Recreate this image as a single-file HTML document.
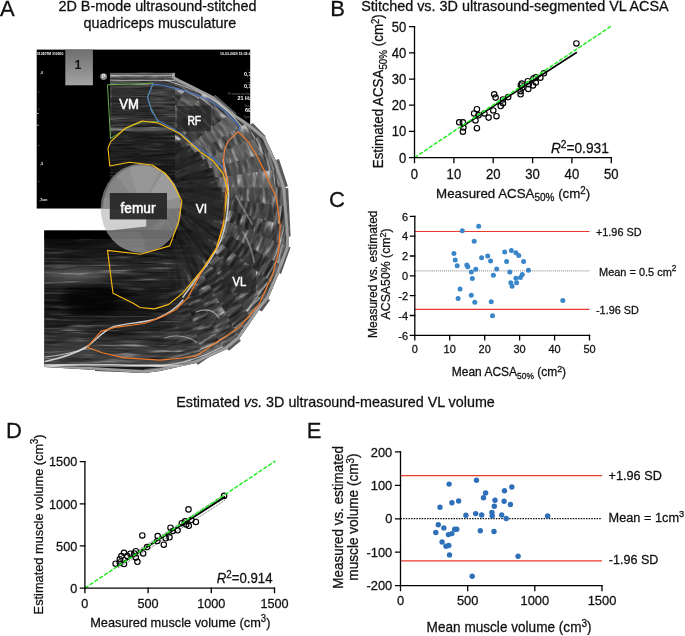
<!DOCTYPE html>
<html lang="en"><head><meta charset="utf-8"><title>Figure: stitched ultrasound vs 3D ultrasound</title>
<style>
html,body{margin:0;padding:0;background:#fff}
body{width:685px;height:636px;overflow:hidden}
svg{display:block;font-family:"Liberation Sans", Arial, sans-serif;fill:#111}
#charts text{stroke:#111;stroke-width:0.28px}
.ax{stroke:#000;stroke-width:1.3;fill:none;stroke-linecap:square}
.tk{font-size:12.3px}
.lb{font-size:14.3px}
.pl{font-size:22px}
.oc{fill:none;stroke:#000;stroke-width:1.15}
.us{font-family:"Liberation Sans", Arial, sans-serif;fill:#fff}
</style></head><body>
<svg width="685" height="636" viewBox="0 0 685 636">
<rect width="685" height="636" fill="#fff"/>
<g opacity="0.999">

<defs>
<filter id="spk0" x="0" y="0" width="100%" height="100%" color-interpolation-filters="sRGB">
<feTurbulence type="fractalNoise" baseFrequency="0.055 0.26" numOctaves="3" seed="3" result="n"/>
<feColorMatrix in="n" type="matrix" values="0 0 0 0 1  0 0 0 0 1  0 0 0 0 1  1 0 0 0 0" result="w"/>
<feComponentTransfer in="w" result="w2"><feFuncA type="table" tableValues="0 0 0 0 0.03 0.17 0.5 0.9 1"/></feComponentTransfer>
<feColorMatrix in="n" type="matrix" values="0 0 0 0 0  0 0 0 0 0  0 0 0 0 0  0 1 0 0 0" result="d"/>
<feComponentTransfer in="d" result="d2"><feFuncA type="table" tableValues="0 0 0 0 0.1 0.3 0.5 0.6 0.6"/></feComponentTransfer>
<feComposite in="d2" in2="SourceGraphic" operator="in" result="dk"/>
<feColorMatrix in="SourceGraphic" type="matrix" values="0 0 0 0 0  0 0 0 0 0  0 0 0 0 0  3.2 0 0 0 0" result="la"/>
<feComposite in="w2" in2="la" operator="in" result="st"/>
<feMerge><feMergeNode in="SourceGraphic"/><feMergeNode in="dk"/><feMergeNode in="st"/></feMerge>
</filter>
<filter id="spk1" x="0" y="0" width="100%" height="100%" color-interpolation-filters="sRGB">
<feTurbulence type="fractalNoise" baseFrequency="0.05 0.3" numOctaves="3" seed="11" result="n"/>
<feColorMatrix in="n" type="matrix" values="0 0 0 0 1  0 0 0 0 1  0 0 0 0 1  1 0 0 0 0" result="w"/>
<feComponentTransfer in="w" result="w2"><feFuncA type="table" tableValues="0 0 0 0 0.03 0.17 0.5 0.9 1"/></feComponentTransfer>
<feColorMatrix in="n" type="matrix" values="0 0 0 0 0  0 0 0 0 0  0 0 0 0 0  0 1 0 0 0" result="d"/>
<feComponentTransfer in="d" result="d2"><feFuncA type="table" tableValues="0 0 0 0 0.1 0.3 0.5 0.6 0.6"/></feComponentTransfer>
<feComposite in="d2" in2="SourceGraphic" operator="in" result="dk"/>
<feColorMatrix in="SourceGraphic" type="matrix" values="0 0 0 0 0  0 0 0 0 0  0 0 0 0 0  3.2 0 0 0 0" result="la"/>
<feComposite in="w2" in2="la" operator="in" result="st"/>
<feMerge><feMergeNode in="SourceGraphic"/><feMergeNode in="dk"/><feMergeNode in="st"/></feMerge>
</filter>
<filter id="spk2" x="0" y="0" width="100%" height="100%" color-interpolation-filters="sRGB">
<feTurbulence type="fractalNoise" baseFrequency="0.06 0.24" numOctaves="3" seed="23" result="n"/>
<feColorMatrix in="n" type="matrix" values="0 0 0 0 1  0 0 0 0 1  0 0 0 0 1  1 0 0 0 0" result="w"/>
<feComponentTransfer in="w" result="w2"><feFuncA type="table" tableValues="0 0 0 0 0.03 0.17 0.5 0.9 1"/></feComponentTransfer>
<feColorMatrix in="n" type="matrix" values="0 0 0 0 0  0 0 0 0 0  0 0 0 0 0  0 1 0 0 0" result="d"/>
<feComponentTransfer in="d" result="d2"><feFuncA type="table" tableValues="0 0 0 0 0.1 0.3 0.5 0.6 0.6"/></feComponentTransfer>
<feComposite in="d2" in2="SourceGraphic" operator="in" result="dk"/>
<feColorMatrix in="SourceGraphic" type="matrix" values="0 0 0 0 0  0 0 0 0 0  0 0 0 0 0  3.2 0 0 0 0" result="la"/>
<feComposite in="w2" in2="la" operator="in" result="st"/>
<feMerge><feMergeNode in="SourceGraphic"/><feMergeNode in="dk"/><feMergeNode in="st"/></feMerge>
</filter>
<filter id="spkB" x="0" y="0" width="100%" height="100%" color-interpolation-filters="sRGB">
<feTurbulence type="fractalNoise" baseFrequency="0.02 0.3" numOctaves="3" seed="5" result="n"/>
<feColorMatrix in="n" type="matrix" values="0 0 0 0 1  0 0 0 0 1  0 0 0 0 1  1 0 0 0 0" result="w"/>
<feComponentTransfer in="w" result="w2"><feFuncA type="table" tableValues="0 0 0 0 0.03 0.17 0.5 0.9 1"/></feComponentTransfer>
<feColorMatrix in="n" type="matrix" values="0 0 0 0 0  0 0 0 0 0  0 0 0 0 0  0 1 0 0 0" result="d"/>
<feComponentTransfer in="d" result="d2"><feFuncA type="table" tableValues="0 0 0 0 0.1 0.3 0.5 0.6 0.6"/></feComponentTransfer>
<feComposite in="d2" in2="SourceGraphic" operator="in" result="dk"/>
<feColorMatrix in="SourceGraphic" type="matrix" values="0 0 0 0 0  0 0 0 0 0  0 0 0 0 0  3.2 0 0 0 0" result="la"/>
<feComposite in="w2" in2="la" operator="in" result="st"/>
<feMerge><feMergeNode in="SourceGraphic"/><feMergeNode in="dk"/><feMergeNode in="st"/></feMerge>
</filter>
<filter id="spkR0" x="0" y="0" width="100%" height="100%" color-interpolation-filters="sRGB">
<feTurbulence type="fractalNoise" baseFrequency="0.3 0.05" numOctaves="3" seed="31" result="n"/>
<feColorMatrix in="n" type="matrix" values="0 0 0 0 1  0 0 0 0 1  0 0 0 0 1  1 0 0 0 0" result="w"/>
<feComponentTransfer in="w" result="w2"><feFuncA type="table" tableValues="0 0 0 0 0.03 0.15 0.42 0.8 1"/></feComponentTransfer>
<feColorMatrix in="n" type="matrix" values="0 0 0 0 0  0 0 0 0 0  0 0 0 0 0  0 1 0 0 0" result="d"/>
<feComponentTransfer in="d" result="d2"><feFuncA type="table" tableValues="0 0 0 0 0.1 0.3 0.5 0.6 0.6"/></feComponentTransfer>
<feComposite in="d2" in2="SourceGraphic" operator="in" result="dk"/>
<feColorMatrix in="SourceGraphic" type="matrix" values="0 0 0 0 0  0 0 0 0 0  0 0 0 0 0  3.2 0 0 0 0" result="la"/>
<feComposite in="w2" in2="la" operator="in" result="st"/>
<feMerge><feMergeNode in="SourceGraphic"/><feMergeNode in="dk"/><feMergeNode in="st"/></feMerge>
</filter>
<filter id="spkR1" x="0" y="0" width="100%" height="100%" color-interpolation-filters="sRGB">
<feTurbulence type="fractalNoise" baseFrequency="0.26 0.06" numOctaves="3" seed="47" result="n"/>
<feColorMatrix in="n" type="matrix" values="0 0 0 0 1  0 0 0 0 1  0 0 0 0 1  1 0 0 0 0" result="w"/>
<feComponentTransfer in="w" result="w2"><feFuncA type="table" tableValues="0 0 0 0 0.03 0.15 0.42 0.8 1"/></feComponentTransfer>
<feColorMatrix in="n" type="matrix" values="0 0 0 0 0  0 0 0 0 0  0 0 0 0 0  0 1 0 0 0" result="d"/>
<feComponentTransfer in="d" result="d2"><feFuncA type="table" tableValues="0 0 0 0 0.1 0.3 0.5 0.6 0.6"/></feComponentTransfer>
<feComposite in="d2" in2="SourceGraphic" operator="in" result="dk"/>
<feColorMatrix in="SourceGraphic" type="matrix" values="0 0 0 0 0  0 0 0 0 0  0 0 0 0 0  3.2 0 0 0 0" result="la"/>
<feComposite in="w2" in2="la" operator="in" result="st"/>
<feMerge><feMergeNode in="SourceGraphic"/><feMergeNode in="dk"/><feMergeNode in="st"/></feMerge>
</filter>
<filter id="spkT" x="0" y="0" width="100%" height="100%" color-interpolation-filters="sRGB">
<feTurbulence type="fractalNoise" baseFrequency="0.03 0.5" numOctaves="3" seed="9" result="n"/>
<feColorMatrix in="n" type="matrix" values="0 0 0 0 1  0 0 0 0 1  0 0 0 0 1  1 0 0 0 0" result="w"/>
<feComponentTransfer in="w" result="w2"><feFuncA type="table" tableValues="0 0 0 0 0.02 0.1 0.3 0.6 0.85"/></feComponentTransfer>
<feColorMatrix in="n" type="matrix" values="0 0 0 0 0  0 0 0 0 0  0 0 0 0 0  0 1 0 0 0" result="d"/>
<feComponentTransfer in="d" result="d2"><feFuncA type="table" tableValues="0 0 0 0 0.1 0.3 0.5 0.6 0.6"/></feComponentTransfer>
<feComposite in="d2" in2="SourceGraphic" operator="in" result="dk"/>
<feColorMatrix in="SourceGraphic" type="matrix" values="0 0 0 0 0  0 0 0 0 0  0 0 0 0 0  2.6 0 0 0 0" result="la"/>
<feComposite in="w2" in2="la" operator="in" result="st"/>
<feMerge><feMergeNode in="SourceGraphic"/><feMergeNode in="dk"/><feMergeNode in="st"/></feMerge>
</filter>
<linearGradient id="depth" x1="0" y1="0" x2="0" y2="1">
<stop offset="0" stop-color="#707070"/><stop offset="0.012" stop-color="#707070"/><stop offset="0.02" stop-color="#5c5c5c"/><stop offset="0.05" stop-color="#626262"/><stop offset="0.06" stop-color="#2a2a2a"/><stop offset="0.07" stop-color="#b8b8b8"/><stop offset="0.082" stop-color="#464646"/><stop offset="0.3" stop-color="#3c3c3c"/><stop offset="0.5" stop-color="#343434"/><stop offset="0.53" stop-color="#606060"/><stop offset="0.56" stop-color="#262626"/><stop offset="0.85" stop-color="#1e1e1e"/><stop offset="1" stop-color="#141414"/></linearGradient>
<linearGradient id="depthI" x1="0" y1="0" x2="0" y2="1"><stop offset="0" stop-color="#2a2a2a"/><stop offset="0.6" stop-color="#222"/><stop offset="1" stop-color="#161616"/></linearGradient>
<linearGradient id="depthB" x1="0" y1="0" x2="0" y2="1">
<stop offset="0" stop-color="#8a8a8a"/><stop offset="0.012" stop-color="#8a8a8a"/><stop offset="0.025" stop-color="#484848"/><stop offset="0.2" stop-color="#343434"/><stop offset="0.4" stop-color="#161616"/><stop offset="0.55" stop-color="#1a1a1a"/><stop offset="0.7" stop-color="#2e2e2e"/><stop offset="0.85" stop-color="#181818"/><stop offset="1" stop-color="#080808"/></linearGradient>
<linearGradient id="g1" x1="0" y1="0" x2="0" y2="1"><stop offset="0" stop-color="#6f6f6f"/><stop offset="1" stop-color="#a3a3a3"/></linearGradient>
</defs>

<g id="panelA">
<rect x="36.7" y="49.6" width="213.5" height="159.1" fill="#000"/>
<clipPath id="scr"><rect x="36.8" y="49.6" width="213.4" height="158.8"/></clipPath>
<g class="us" clip-path="url(#scr)" style="font-weight:bold" fill="#e6e6e6"><text x="36.9" y="55" style="font-size:3.5px" textLength="26.4" lengthAdjust="spacingAndGlyphs">01020TM 310500</text><text x="220" y="54.5" style="font-size:3.4px" textLength="32.5" lengthAdjust="spacingAndGlyphs">10-03-2020 15:32:41</text><text x="246.8" y="71" style="font-size:2.4px;font-weight:normal" fill="#6a6a6a">MI</text><text x="243.9" y="76.3" style="font-size:5.4px" fill="#fff">0,7</text><text x="246.3" y="83.4" style="font-size:2.4px;font-weight:normal" fill="#6a6a6a">TIS</text><text x="243.9" y="88.4" style="font-size:5.4px" fill="#fff">0,1</text><text x="228.3" y="94.6" style="font-size:2.7px;font-weight:normal" fill="#6a6a6a" textLength="25" lengthAdjust="spacingAndGlyphs">Framerate/rate</text><text x="237.6" y="100.2" style="font-size:5.4px" fill="#fff">21 Hz</text><text x="244.2" y="106.7" style="font-size:2.6px;font-weight:normal" fill="#6a6a6a">Gain</text><text x="245" y="112.2" style="font-size:5.4px" fill="#fff">69</text><text x="244" y="118.4" style="font-size:2.6px;font-weight:normal" fill="#6a6a6a">Dynam</text><text x="40.2" y="73.6" style="font-size:3.4px">,0</text><text x="40.2" y="164.6" style="font-size:3.4px">,5</text><text x="39.4" y="200.7" style="font-size:3.4px" textLength="8" lengthAdjust="spacingAndGlyphs">,7cm</text><path d="M38.6,91.8h.6M38.6,109.2h.6M37,113.4h1.6M37,125.2h1.6M38.6,145.4h.6M38.6,181.6h.6" stroke="#ddd" stroke-width="0.9" fill="none"/></g>
<clipPath id="fanclip"><polygon points="110,72.7 175,72.7 175,77 213,96 236,115 251,125 265,137 276,161 285,187 289,237 289,247 279,273 268,299 259,310 239,339 227,349 196,363 160,371 144,373 95,370 44.3,367 44.3,230.2 110,230.2"/></clipPath>
<polygon points="110,72.7 175,72.7 175,77 213,96 236,115 251,125 265,137 276,161 285,187 289,237 289,247 279,273 268,299 259,310 239,339 227,349 196,363 160,371 144,373 95,370 44.3,367 44.3,230.2 110,230.2" fill="#181818"/>
<g fill="#585858"><polygon points="250,124.5 253,123.3 265.5,136 265,137.5"/><polygon points="276,160 279,159 287.8,186 285,187.5"/><polygon points="285,188 288.2,188.3 290.6,236 289,237"/><polygon points="289,247 290.6,247.3 281,274 279,273"/><polygon points="268,299 270.2,300 261.8,311.5 259,310"/><polygon points="239,339 241,340.8 229,350.8 227,349"/><polygon points="208,354 210,356.4 198,364.8 196,363"/><polygon points="161,367 161.6,370.2 144,373.2 144,369"/><polygon points="144,369.5 144.5,373 95,371 95,368" fill="#444"/><polygon points="213,96 215.5,95 236.6,113.5 236,115"/></g>
<g id="fan" clip-path="url(#fanclip)">
<g transform="rotate(7.5 141 208.5)"><rect x="120.0" y="72.7" width="42" height="107.8" fill="url(#depth)" filter="url(#spk1)"/>
<rect x="120.0" y="133.1" width="42" height="47.4" fill="url(#depthI)" filter="url(#spkR1)"/>
<rect x="120.0" y="134.5" width="42" height="53.9" fill="#fff" fill-opacity="0.04"/>
</g>
<g transform="rotate(15.0 141 208.5)"><rect x="120.0" y="74.1" width="42" height="106.4" fill="url(#depth)" filter="url(#spk2)"/>
<rect x="120.0" y="133.7" width="42" height="46.8" fill="url(#depthI)" filter="url(#spkR0)"/>
<rect x="120.0" y="84.1" width="42" height="48.9" fill="#fff" fill-opacity="0.07"/>
<rect x="120.0" y="135.2" width="42" height="53.2" fill="#000" fill-opacity="0.04"/>
</g>
<g transform="rotate(22.5 141 208.5)"><rect x="120.0" y="76.5" width="42" height="104.0" fill="url(#depth)" filter="url(#spk0)"/>
<rect x="120.0" y="134.8" width="42" height="45.7" fill="url(#depthI)" filter="url(#spkR1)"/>
<rect x="120.0" y="86.5" width="42" height="47.8" fill="#fff" fill-opacity="0.02"/>
<rect x="120.0" y="136.4" width="42" height="52.0" fill="#fff" fill-opacity="0.06"/>
</g>
<g transform="rotate(30.0 141 208.5)"><rect x="120.0" y="76.6" width="42" height="103.9" fill="url(#depth)" filter="url(#spk1)"/>
<rect x="120.0" y="134.8" width="42" height="45.7" fill="url(#depthI)" filter="url(#spkR0)"/>
<rect x="120.0" y="86.6" width="42" height="47.8" fill="#fff" fill-opacity="0.11"/>
<rect x="120.0" y="136.5" width="42" height="51.9" fill="#000" fill-opacity="0.12"/>
</g>
<g transform="rotate(37.5 141 208.5)"><rect x="120.0" y="77.0" width="42" height="103.5" fill="url(#depth)" filter="url(#spk2)"/>
<rect x="120.0" y="135.0" width="42" height="45.5" fill="url(#depthI)" filter="url(#spkR1)"/>
<rect x="120.0" y="87.0" width="42" height="47.6" fill="#000" fill-opacity="0.02"/>
<rect x="120.0" y="136.7" width="42" height="51.7" fill="#fff" fill-opacity="0.03"/>
</g>
<g transform="rotate(45.0 141 208.5)"><rect x="120.0" y="76.5" width="42" height="104.0" fill="url(#depth)" filter="url(#spk0)"/>
<rect x="120.0" y="134.7" width="42" height="45.8" fill="url(#depthI)" filter="url(#spkR0)"/>
<rect x="120.0" y="86.5" width="42" height="47.8" fill="#fff" fill-opacity="0.05"/>
<rect x="120.0" y="136.4" width="42" height="52.0" fill="#000" fill-opacity="0.10"/>
</g>
<g transform="rotate(52.5 141 208.5)"><rect x="120.0" y="71.8" width="42" height="108.7" fill="url(#depth)" filter="url(#spk1)"/>
<rect x="120.0" y="132.7" width="42" height="47.8" fill="url(#depthI)" filter="url(#spkR1)"/>
<rect x="120.0" y="81.8" width="42" height="50.0" fill="#fff" fill-opacity="0.19"/>
<rect x="120.0" y="134.0" width="42" height="54.3" fill="#fff" fill-opacity="0.04"/>
</g>
<g transform="rotate(60.0 141 208.5)"><rect x="120.0" y="66.6" width="42" height="113.9" fill="url(#depth)" filter="url(#spk2)"/>
<rect x="120.0" y="130.4" width="42" height="50.1" fill="url(#depthI)" filter="url(#spkR0)"/>
<rect x="120.0" y="76.6" width="42" height="52.4" fill="#fff" fill-opacity="0.10"/>
<rect x="120.0" y="131.3" width="42" height="57.0" fill="#000" fill-opacity="0.04"/>
</g>
<g transform="rotate(67.5 141 208.5)"><rect x="120.0" y="67.1" width="42" height="113.4" fill="url(#depth)" filter="url(#spk0)"/>
<rect x="120.0" y="130.6" width="42" height="49.9" fill="url(#depthI)" filter="url(#spkR1)"/>
<rect x="120.0" y="77.1" width="42" height="52.2" fill="#fff" fill-opacity="0.20"/>
<rect x="120.0" y="131.5" width="42" height="56.7" fill="#fff" fill-opacity="0.06"/>
</g>
<g transform="rotate(75.0 141 208.5)"><rect x="120.0" y="66.2" width="42" height="114.3" fill="url(#depth)" filter="url(#spk1)"/>
<rect x="120.0" y="130.2" width="42" height="50.3" fill="url(#depthI)" filter="url(#spkR0)"/>
<rect x="120.0" y="76.2" width="42" height="52.6" fill="#fff" fill-opacity="0.12"/>
<rect x="120.0" y="131.1" width="42" height="57.1" fill="#000" fill-opacity="0.12"/>
</g>
<g transform="rotate(82.5 141 208.5)"><rect x="120.0" y="64.3" width="42" height="116.2" fill="url(#depth)" filter="url(#spk2)"/>
<rect x="120.0" y="129.4" width="42" height="51.1" fill="url(#depthI)" filter="url(#spkR1)"/>
<rect x="120.0" y="74.3" width="42" height="53.5" fill="#fff" fill-opacity="0.20"/>
<rect x="120.0" y="130.1" width="42" height="58.1" fill="#fff" fill-opacity="0.03"/>
</g>
<g transform="rotate(90.0 141 208.5)"><rect x="120.0" y="64.0" width="42" height="116.5" fill="url(#depth)" filter="url(#spk0)"/>
<rect x="120.0" y="129.2" width="42" height="51.3" fill="url(#depthI)" filter="url(#spkR0)"/>
<rect x="120.0" y="74.0" width="42" height="53.6" fill="#fff" fill-opacity="0.09"/>
<rect x="120.0" y="129.9" width="42" height="58.3" fill="#000" fill-opacity="0.10"/>
</g>
<g transform="rotate(97.5 141 208.5)"><rect x="120.0" y="61.2" width="42" height="119.3" fill="url(#depth)" filter="url(#spk1)"/>
<rect x="120.0" y="128.0" width="42" height="52.5" fill="url(#depthI)" filter="url(#spkR1)"/>
<rect x="120.0" y="71.2" width="42" height="54.9" fill="#fff" fill-opacity="0.04"/>
<rect x="120.0" y="128.4" width="42" height="59.7" fill="#fff" fill-opacity="0.04"/>
</g>
<g transform="rotate(105.0 141 208.5)"><rect x="120.0" y="56.9" width="42" height="123.6" fill="url(#depth)" filter="url(#spk2)"/>
<rect x="120.0" y="126.1" width="42" height="54.4" fill="url(#depthI)" filter="url(#spkR0)"/>
<rect x="120.0" y="126.2" width="42" height="61.8" fill="#000" fill-opacity="0.04"/>
</g>
<g transform="rotate(112.5 141 208.5)"><rect x="120.0" y="57.7" width="42" height="122.8" fill="url(#depth)" filter="url(#spk0)"/>
<rect x="120.0" y="126.5" width="42" height="54.0" fill="url(#depthI)" filter="url(#spkR1)"/>
<rect x="120.0" y="67.7" width="42" height="56.5" fill="#fff" fill-opacity="0.08"/>
<rect x="120.0" y="126.6" width="42" height="61.4" fill="#fff" fill-opacity="0.06"/>
</g>
<g transform="rotate(120.0 141 208.5)"><rect x="120.0" y="56.3" width="42" height="124.2" fill="url(#depth)" filter="url(#spk1)"/>
<rect x="120.0" y="125.9" width="42" height="54.6" fill="url(#depthI)" filter="url(#spkR0)"/>
<rect x="120.0" y="66.3" width="42" height="57.1" fill="#000" fill-opacity="0.11"/>
<rect x="120.0" y="125.9" width="42" height="62.1" fill="#000" fill-opacity="0.12"/>
</g>
<g transform="rotate(127.5 141 208.5)"><rect x="120.0" y="54.0" width="42" height="126.5" fill="url(#depth)" filter="url(#spk2)"/>
<rect x="120.0" y="124.9" width="42" height="55.6" fill="url(#depthI)" filter="url(#spkR1)"/>
<rect x="120.0" y="64.0" width="42" height="58.2" fill="#000" fill-opacity="0.04"/>
<rect x="120.0" y="124.7" width="42" height="63.2" fill="#fff" fill-opacity="0.03"/>
</g>
<g transform="rotate(135.0 141 208.5)"><rect x="120.0" y="52.3" width="42" height="128.2" fill="url(#depth)" filter="url(#spk0)"/>
<rect x="120.0" y="124.1" width="42" height="56.4" fill="url(#depthI)" filter="url(#spkR0)"/>
<rect x="120.0" y="123.9" width="42" height="64.1" fill="#000" fill-opacity="0.10"/>
</g>
<g transform="rotate(142.5 141 208.5)"><rect x="120.0" y="47.1" width="42" height="133.4" fill="url(#depth)" filter="url(#spk1)"/>
<rect x="120.0" y="121.8" width="42" height="58.7" fill="url(#depthI)" filter="url(#spkR1)"/>
<rect x="120.0" y="57.1" width="42" height="61.4" fill="#000" fill-opacity="0.09"/>
<rect x="120.0" y="121.1" width="42" height="66.7" fill="#fff" fill-opacity="0.04"/>
</g>
<g transform="rotate(150.0 141 208.5)"><rect x="120.0" y="45.4" width="42" height="135.1" fill="url(#depth)" filter="url(#spk2)"/>
<rect x="120.0" y="121.1" width="42" height="59.4" fill="url(#depthI)" filter="url(#spkR0)"/>
<rect x="120.0" y="120.3" width="42" height="67.5" fill="#000" fill-opacity="0.04"/>
</g>
<g transform="rotate(157.5 141 208.5)"><rect x="120.0" y="46.2" width="42" height="134.3" fill="url(#depth)" filter="url(#spk0)"/>
<rect x="120.0" y="121.4" width="42" height="59.1" fill="url(#depthI)" filter="url(#spkR1)"/>
<rect x="120.0" y="56.2" width="42" height="61.8" fill="#000" fill-opacity="0.07"/>
<rect x="120.0" y="120.7" width="42" height="67.2" fill="#fff" fill-opacity="0.06"/>
</g>
<g transform="rotate(165.0 141 208.5)"><rect x="120.0" y="46.8" width="42" height="133.7" fill="url(#depth)" filter="url(#spk1)"/>
<rect x="120.0" y="121.7" width="42" height="58.8" fill="url(#depthI)" filter="url(#spkR0)"/>
<rect x="120.0" y="121.0" width="42" height="66.9" fill="#000" fill-opacity="0.12"/>
</g>
<rect x="110" y="72.7" width="65" height="107" fill="url(#depth)" filter="url(#spkT)"/>
<rect x="112" y="88" width="38" height="28" fill="#1c1c1c" fill-opacity="0.45"/>
<path d="M175,72.7L175,77L213,96L236,115L251,125L265,137L276,161L285,187L289,237L289,247L279,273L268,299L259,310L239,339L227,349L196,363L160,371L144,373L95,370L44.3,367" fill="none" stroke="#9c9c9c" stroke-width="5.6" stroke-linejoin="round"/>
<linearGradient id="fadeR" gradientUnits="userSpaceOnUse" x1="158" y1="0" x2="198" y2="0"><stop offset="0" stop-color="#fff"/><stop offset="1" stop-color="#000"/></linearGradient><mask id="mB" maskUnits="userSpaceOnUse" x="40" y="225" width="170" height="150"><rect x="40" y="225" width="170" height="150" fill="url(#fadeR)"/></mask>
<g mask="url(#mB)"><g transform="rotate(180 122.15 298.6)"><rect x="44.3" y="230.2" width="155.7" height="136.8" fill="url(#depthB)" filter="url(#spkB)"/></g></g>
<rect x="44.3" y="230.2" width="131.7" height="8.8" fill="#000"/>
<defs><filter id="bl" x="-30%" y="-30%" width="160%" height="160%"><feGaussianBlur stdDeviation="5"/></filter><filter id="bl1" x="-10%" y="-50%" width="120%" height="200%"><feGaussianBlur stdDeviation="0.5"/></filter></defs>
<ellipse cx="92" cy="299" rx="30" ry="17" fill="#000" fill-opacity="0.75" filter="url(#bl)"/>
<ellipse cx="75" cy="276" rx="34" ry="7" fill="#fff" fill-opacity="0.22" filter="url(#bl)"/>
<g fill="none" stroke="#e8e8e8" stroke-linecap="round" filter="url(#bl1)">
<path d="M45,361.5C62,358 78,352 88,346C98,338 104,330 114,326.5C128,323 142,323 156,319C168,314 176,309 183,300" stroke-width="1.5" stroke-opacity="0.85"/>
<path d="M45,357C60,355.5 75,352 86,348.5" stroke-width="1.1" stroke-opacity="0.7"/>
<path d="M45,365C80,364 120,364.5 160,366C185,364 205,356 222,347" stroke-width="1.4" stroke-opacity="0.7"/>
<path d="M223,160C226,172 229,186 228.5,197C228,212 226,226 221,240C216,252 208,264 200,274C194,282 188,290 183,297" stroke-width="1.6" stroke-opacity="0.8"/>
<path d="M243,232C248,240 252,250 254,262" stroke-width="1.8" stroke-opacity="0.35"/>
<path d="M236,196C241,206 247,214 252,224" stroke-width="1.8" stroke-opacity="0.32"/>
<path d="M196,312C206,308 214,310 219,318" stroke-width="1.2" stroke-opacity="0.55"/>
<path d="M165,338C175,334 188,336 196,342" stroke-width="1.1" stroke-opacity="0.5"/>
<path d="M165,80C185,86 205,94 218,103C228,111 236,119 243,128" stroke-width="1.2" stroke-opacity="0.6"/>
<path d="M112,75.5H173" stroke-width="0.9" stroke-opacity="0.6"/>
</g>
</g>
<polygon points="36,208.7 146.2,208.7 146.2,226.4 112,230.2 36,230.2" fill="#fff"/>
<path d="M103,208.5A38,42 0 0 1 181,208.5Z" fill="#5a5a5a"/>
<ellipse cx="141" cy="208.5" rx="40.3" ry="44.5" fill="#b0b0b0" fill-opacity="0.6"/>
<clipPath id="fem"><ellipse cx="141" cy="208.5" rx="40.3" ry="44.5"/></clipPath>
<g clip-path="url(#fem)"><polygon points="141,208 127,160 162,166" fill="#fff" fill-opacity="0.08"/><polygon points="141,208 166,168 186,196" fill="#fff" fill-opacity="0.13"/><polygon points="141,208 100,196 112,170" fill="#000" fill-opacity="0.06"/><polygon points="141,232 100,232 110,262 150,262" fill="#fff" fill-opacity="0.05"/></g>
<rect x="65.3" y="49.6" width="27.6" height="35.7" fill="url(#g1)"/>
<text x="77.9" y="68.5" text-anchor="middle" style="font-size:12.4px;font-weight:bold" fill="#111">1</text>
<circle cx="103.6" cy="76.6" r="3.4" fill="#8c8c8c"/><text x="103.6" y="78.4" text-anchor="middle" style="font-size:5px;font-weight:bold" fill="#f0f0f0">P</text>
<path d="M107.5,84.8L153.3,83.3L147.5,96.6L150.8,107.9L158.3,121.8L142,121.8L126.9,128L110.5,138.6Z" fill="none" stroke="#6fae4e" stroke-width="1.0" stroke-linejoin="round"/>
<path d="M152.6,84L162.6,85.3L180,89.5L195,94.2L209.1,99.9L223.3,109.8L236,122.5L240.5,128.2L237.4,132.4L228.2,140.9L224.7,149.4L223.3,160.7L224,169.2L216.2,160.7L208.4,154.4L195,145.9L180.3,133L162.6,123L157.6,120.5L151.3,110.4L147.5,97.9Z" fill="none" stroke="#4a78c8" stroke-width="1.1" stroke-linejoin="round"/>
<path d="M238.1,131.7L248.7,142.3L257.2,156.5L265,172L270.8,186L276,196L280.2,225.3L278.8,250.8L273,273.5L259,304.6L239,327.3L213.7,344.3L195.5,356.2L182.5,358L160,360.2L124.6,357.8L103,353L87.2,347.2L101,331.4L114.7,327.4L144.3,323.5L160,317.6L175.8,309.7L187.7,297.9L203.7,267.8L216.5,248L223.6,222.5L225,197L227.8,180L224.3,170.8L223.3,160.7L224.7,149.4L228.2,140.9Z" fill="none" stroke="#ee7a2a" stroke-width="1.2" stroke-linejoin="round"/>
<path d="M110.5,141.9L125.6,128L142,121L158.3,123L176,131.8L180.3,134.3L200.4,152L213,160.8L223,173.3L228,191L226.4,197L223.6,225.3L216.5,248L203.7,267.8L196.7,276.3L182.5,293.3L168.3,304.6L154.2,308.9L140,307.5L133.2,303.3L113,293.2L107.5,250.4L140.7,254.2L169.7,245.9L178.7,221.7L181.9,200.9L173,184L165.5,173.6L152.3,165L129.6,162.3L109.8,166L108,148.2Z" fill="none" stroke="#f7bb10" stroke-width="1.15" stroke-linejoin="round"/>
<text x="129" y="109.4" class="us" text-anchor="middle" style="font-size:14.5px" stroke="#fff" stroke-width="0.55" textLength="19.6" lengthAdjust="spacingAndGlyphs">VM</text>
<rect x="177.2" y="105.8" width="33.8" height="25.6" fill="#262626" fill-opacity="0.72"/>
<text x="194.3" y="125.2" class="us" text-anchor="middle" style="font-size:13.5px" stroke="#fff" stroke-width="0.55" textLength="13.8" lengthAdjust="spacingAndGlyphs">RF</text>
<rect x="185" y="192" width="40" height="28" fill="#262626" fill-opacity="0.55"/>
<text x="201.5" y="212.8" class="us" text-anchor="middle" style="font-size:13.5px" stroke="#fff" stroke-width="0.55" textLength="11.4" lengthAdjust="spacingAndGlyphs">VI</text>
<rect x="222" y="265" width="34" height="28" fill="#262626" fill-opacity="0.6"/>
<text x="239.4" y="285.6" class="us" text-anchor="middle" style="font-size:13.5px" stroke="#fff" stroke-width="0.55" textLength="13.8" lengthAdjust="spacingAndGlyphs">VL</text>
<rect x="109.8" y="193" width="57.2" height="26.4" fill="#262626" fill-opacity="0.93"/>
<text x="138" y="212.8" class="us" text-anchor="middle" style="font-size:14.8px" stroke="#fff" stroke-width="0.55" textLength="35" lengthAdjust="spacingAndGlyphs">femur</text>
</g>
<g id="charts">
<text x="0" y="15.7" style="font-size:22px" text-anchor="start">A</text>
<text x="330.3" y="15.7" style="font-size:22px" text-anchor="start">B</text>
<text x="328.9" y="207.4" style="font-size:22px" text-anchor="start">C</text>
<text x="6.1" y="437.8" style="font-size:22px" text-anchor="start">D</text>
<text x="306.7" y="437.8" style="font-size:22px" text-anchor="start">E</text>
<text x="58.5" y="11.0" style="font-size:14.1px" text-anchor="start" textLength="198" lengthAdjust="spacingAndGlyphs">2D B-mode ultrasound-stitched</text>
<text x="83.6" y="28.0" style="font-size:14.1px" text-anchor="start" textLength="152.6" lengthAdjust="spacingAndGlyphs">quadriceps musculature</text>
<text x="361.2" y="10.6" style="font-size:14.3px" text-anchor="start" textLength="307.4" lengthAdjust="spacingAndGlyphs">Stitched vs. 3D ultrasound-segmented VL ACSA</text>
<text x="176.2" y="406.7" style="font-size:14.5px" text-anchor="start" textLength="318.6" lengthAdjust="spacingAndGlyphs">Estimated <tspan font-style="italic">vs.</tspan> 3D ultrasound-measured VL volume</text>
<g id="panelB">
<circle class="oc" cx="576.4" cy="43.4" r="2.7"/>
<circle class="oc" cx="543.9" cy="73.3" r="2.7"/>
<circle class="oc" cx="540.4" cy="77.7" r="2.7"/>
<circle class="oc" cx="535.8" cy="77.2" r="2.7"/>
<circle class="oc" cx="533.4" cy="78.4" r="2.7"/>
<circle class="oc" cx="535.8" cy="82.6" r="2.7"/>
<circle class="oc" cx="533" cy="85.4" r="2.7"/>
<circle class="oc" cx="527.8" cy="81.2" r="2.7"/>
<circle class="oc" cx="528.8" cy="84.2" r="2.7"/>
<circle class="oc" cx="528.3" cy="88.9" r="2.7"/>
<circle class="oc" cx="521.8" cy="83.5" r="2.7"/>
<circle class="oc" cx="520.8" cy="85.4" r="2.7"/>
<circle class="oc" cx="522.2" cy="87.7" r="2.7"/>
<circle class="oc" cx="520.6" cy="91.2" r="2.7"/>
<circle class="oc" cx="520.6" cy="94.3" r="2.7"/>
<circle class="oc" cx="494.2" cy="94.3" r="2.7"/>
<circle class="oc" cx="495.6" cy="97.6" r="2.7"/>
<circle class="oc" cx="508.2" cy="97.1" r="2.7"/>
<circle class="oc" cx="503" cy="99.4" r="2.7"/>
<circle class="oc" cx="503" cy="103.2" r="2.7"/>
<circle class="oc" cx="500.7" cy="106" r="2.7"/>
<circle class="oc" cx="493.3" cy="110.4" r="2.7"/>
<circle class="oc" cx="496.5" cy="116.2" r="2.7"/>
<circle class="oc" cx="488.6" cy="117.6" r="2.7"/>
<circle class="oc" cx="484.4" cy="113.4" r="2.7"/>
<circle class="oc" cx="476.9" cy="109.2" r="2.7"/>
<circle class="oc" cx="474.1" cy="113.4" r="2.7"/>
<circle class="oc" cx="478.5" cy="115.3" r="2.7"/>
<circle class="oc" cx="475.5" cy="120.4" r="2.7"/>
<circle class="oc" cx="476.9" cy="128.2" r="2.7"/>
<circle class="oc" cx="459.2" cy="122.3" r="2.7"/>
<circle class="oc" cx="462.9" cy="122.3" r="2.7"/>
<circle class="oc" cx="463.4" cy="127.5" r="2.7"/>
<circle class="oc" cx="462.9" cy="131.7" r="2.7"/>
<line x1="461" y1="127.2" x2="576.9" y2="52.2" stroke="#000" stroke-width="1.7"/>
<line x1="414.5" y1="157.6" x2="611.8" y2="25.7" stroke="#22ee22" stroke-width="1.5" stroke-dasharray="4.2 1.6"/>
<path class="ax" d="M414.5,26.7V157.6M414.5,157.6H611.3"/>
<path class="ax" d="M414.5,157.6v4.9M453.9,157.6v4.9M493.2,157.6v4.9M532.6,157.6v4.9M571.9,157.6v4.9M611.3,157.6v4.9M414.5,157.6h-4.9M414.5,131.4h-4.9M414.5,105.2h-4.9M414.5,79.1h-4.9M414.5,52.9h-4.9M414.5,26.7h-4.9"/>
<text x="414.5" y="178.5" style="font-size:13.8px" text-anchor="middle" textLength="7.28" lengthAdjust="spacingAndGlyphs">0</text>
<text x="453.9" y="178.5" style="font-size:13.8px" text-anchor="middle" textLength="14.57" lengthAdjust="spacingAndGlyphs">10</text>
<text x="493.2" y="178.5" style="font-size:13.8px" text-anchor="middle" textLength="14.57" lengthAdjust="spacingAndGlyphs">20</text>
<text x="532.6" y="178.5" style="font-size:13.8px" text-anchor="middle" textLength="14.57" lengthAdjust="spacingAndGlyphs">30</text>
<text x="571.9" y="178.5" style="font-size:13.8px" text-anchor="middle" textLength="14.57" lengthAdjust="spacingAndGlyphs">40</text>
<text x="611.3" y="178.5" style="font-size:13.8px" text-anchor="middle" textLength="14.57" lengthAdjust="spacingAndGlyphs">50</text>
<text x="406.3" y="162.5" style="font-size:13.8px" text-anchor="end" textLength="7.28" lengthAdjust="spacingAndGlyphs">0</text>
<text x="406.3" y="136.4" style="font-size:13.8px" text-anchor="end" textLength="14.57" lengthAdjust="spacingAndGlyphs">10</text>
<text x="406.3" y="110.2" style="font-size:13.8px" text-anchor="end" textLength="14.57" lengthAdjust="spacingAndGlyphs">20</text>
<text x="406.3" y="84.0" style="font-size:13.8px" text-anchor="end" textLength="14.57" lengthAdjust="spacingAndGlyphs">30</text>
<text x="406.3" y="57.8" style="font-size:13.8px" text-anchor="end" textLength="14.57" lengthAdjust="spacingAndGlyphs">40</text>
<text x="406.3" y="31.6" style="font-size:13.8px" text-anchor="end" textLength="14.57" lengthAdjust="spacingAndGlyphs">50</text>
<text transform="translate(383.4,91.2) rotate(-90)" text-anchor="middle" textLength="154" lengthAdjust="spacingAndGlyphs" style="font-size:13.95px">Estimated ACSA<tspan dy="3.3" style="font-size:10.3px">50%</tspan><tspan dy="-3.3"> (cm</tspan><tspan dy="-4.5" style="font-size:10px">2</tspan><tspan dy="4.5">)</tspan></text>
<text x="436.1" y="198" style="font-size:13.69px" text-anchor="start" textLength="154.1" lengthAdjust="spacingAndGlyphs">Measured ACSA<tspan dy="3.3" style="font-size:10.3px">50%</tspan><tspan dy="-3.3"> (cm</tspan><tspan dy="-4.5" style="font-size:10px">2</tspan><tspan dy="4.5">)</tspan></text>
<text x="550.9" y="152.6" style="font-size:14.32px" text-anchor="start" textLength="57.9" lengthAdjust="spacingAndGlyphs"><tspan font-style="italic">R</tspan><tspan dy="-5" style="font-size:10.6px">2</tspan><tspan dy="5">=0.931</tspan></text>
</g>
<g id="panelC">
<path d="M414.8,231.5H589.5M414.8,309.4H589.5" stroke="#ea3a2e" stroke-width="1.15" fill="none"/>
<line x1="414.8" y1="270.9" x2="589.5" y2="270.9" stroke="#909090" stroke-width="1.25" stroke-dasharray="0.9 1.05"/>
<circle cx="478.7" cy="226.2" r="2.5" fill="#3b86c9"/>
<circle cx="462.3" cy="230.7" r="2.5" fill="#3b86c9"/>
<circle cx="474.2" cy="241.3" r="2.5" fill="#3b86c9"/>
<circle cx="453.9" cy="253.5" r="2.5" fill="#3b86c9"/>
<circle cx="455.2" cy="259.9" r="2.5" fill="#3b86c9"/>
<circle cx="457.2" cy="265.7" r="2.5" fill="#3b86c9"/>
<circle cx="466.8" cy="265.1" r="2.5" fill="#3b86c9"/>
<circle cx="467.8" cy="266.7" r="2.5" fill="#3b86c9"/>
<circle cx="475.8" cy="269.2" r="2.5" fill="#3b86c9"/>
<circle cx="471.3" cy="272.1" r="2.5" fill="#3b86c9"/>
<circle cx="472.3" cy="278.5" r="2.5" fill="#3b86c9"/>
<circle cx="460.1" cy="289.1" r="2.5" fill="#3b86c9"/>
<circle cx="458.1" cy="298.4" r="2.5" fill="#3b86c9"/>
<circle cx="471.3" cy="295.2" r="2.5" fill="#3b86c9"/>
<circle cx="474.8" cy="302.3" r="2.5" fill="#3b86c9"/>
<circle cx="481.6" cy="257.7" r="2.5" fill="#3b86c9"/>
<circle cx="487.7" cy="256.1" r="2.5" fill="#3b86c9"/>
<circle cx="490.6" cy="260.9" r="2.5" fill="#3b86c9"/>
<circle cx="496.7" cy="268.9" r="2.5" fill="#3b86c9"/>
<circle cx="493.4" cy="275.3" r="2.5" fill="#3b86c9"/>
<circle cx="491.2" cy="301.7" r="2.5" fill="#3b86c9"/>
<circle cx="492.5" cy="315.8" r="2.5" fill="#3b86c9"/>
<circle cx="504.7" cy="251.9" r="2.5" fill="#3b86c9"/>
<circle cx="511.4" cy="250.6" r="2.5" fill="#3b86c9"/>
<circle cx="515.9" cy="252.8" r="2.5" fill="#3b86c9"/>
<circle cx="518.8" cy="255.4" r="2.5" fill="#3b86c9"/>
<circle cx="506.6" cy="261.5" r="2.5" fill="#3b86c9"/>
<circle cx="523.6" cy="261.5" r="2.5" fill="#3b86c9"/>
<circle cx="509.8" cy="272.1" r="2.5" fill="#3b86c9"/>
<circle cx="528.4" cy="270.2" r="2.5" fill="#3b86c9"/>
<circle cx="522.3" cy="274.4" r="2.5" fill="#3b86c9"/>
<circle cx="520.4" cy="277.6" r="2.5" fill="#3b86c9"/>
<circle cx="515.9" cy="278.2" r="2.5" fill="#3b86c9"/>
<circle cx="510.8" cy="282.7" r="2.5" fill="#3b86c9"/>
<circle cx="516.6" cy="282.7" r="2.5" fill="#3b86c9"/>
<circle cx="512.1" cy="286.2" r="2.5" fill="#3b86c9"/>
<circle cx="562.8" cy="300.4" r="2.5" fill="#3b86c9"/>
<path class="ax" d="M414.8,216.3V335.4M414.8,335.4H589.5"/>
<path class="ax" d="M414.8,335.4v4.4M449.7,335.4v4.4M484.7,335.4v4.4M519.6,335.4v4.4M554.6,335.4v4.4M589.5,335.4v4.4M414.8,335.4h-4.4M414.8,315.5h-4.4M414.8,295.7h-4.4M414.8,275.9h-4.4M414.8,256.0h-4.4M414.8,236.2h-4.4M414.8,216.3h-4.4"/>
<text x="414.8" y="352.8" style="font-size:11.8px" text-anchor="middle" textLength="6.12" lengthAdjust="spacingAndGlyphs">0</text>
<text x="449.7" y="352.8" style="font-size:11.8px" text-anchor="middle" textLength="12.23" lengthAdjust="spacingAndGlyphs">10</text>
<text x="484.7" y="352.8" style="font-size:11.8px" text-anchor="middle" textLength="12.23" lengthAdjust="spacingAndGlyphs">20</text>
<text x="519.6" y="352.8" style="font-size:11.8px" text-anchor="middle" textLength="12.23" lengthAdjust="spacingAndGlyphs">30</text>
<text x="554.6" y="352.8" style="font-size:11.8px" text-anchor="middle" textLength="12.23" lengthAdjust="spacingAndGlyphs">40</text>
<text x="589.5" y="352.8" style="font-size:11.8px" text-anchor="middle" textLength="12.23" lengthAdjust="spacingAndGlyphs">50</text>
<text x="408" y="339.6" style="font-size:11.8px" text-anchor="end" textLength="9.78" lengthAdjust="spacingAndGlyphs">-6</text>
<text x="408" y="319.8" style="font-size:11.8px" text-anchor="end" textLength="9.78" lengthAdjust="spacingAndGlyphs">-4</text>
<text x="408" y="299.9" style="font-size:11.8px" text-anchor="end" textLength="9.78" lengthAdjust="spacingAndGlyphs">-2</text>
<text x="408" y="280.1" style="font-size:11.8px" text-anchor="end" textLength="6.12" lengthAdjust="spacingAndGlyphs">0</text>
<text x="408" y="260.2" style="font-size:11.8px" text-anchor="end" textLength="6.12" lengthAdjust="spacingAndGlyphs">2</text>
<text x="408" y="240.4" style="font-size:11.8px" text-anchor="end" textLength="6.12" lengthAdjust="spacingAndGlyphs">4</text>
<text x="408" y="220.5" style="font-size:11.8px" text-anchor="end" textLength="6.12" lengthAdjust="spacingAndGlyphs">6</text>
<text transform="translate(377.3,274.2) rotate(-90)" text-anchor="middle" textLength="127.5" lengthAdjust="spacingAndGlyphs" style="font-size:12.78px">Measured vs. estimated</text>
<text transform="translate(390.4,273.9) rotate(-90)" text-anchor="middle" textLength="91" lengthAdjust="spacingAndGlyphs" style="font-size:12.78px">ACSA50% (cm<tspan dy="-4.2" style="font-size:9.3px">2</tspan><tspan dy="4.2">)</tspan></text>
<text x="451.8" y="376.4" style="font-size:12.54px" text-anchor="start" textLength="114.3" lengthAdjust="spacingAndGlyphs">Mean ACSA<tspan dy="3" style="font-size:8.8px">50%</tspan><tspan dy="-3"> (cm</tspan><tspan dy="-4.2" style="font-size:9.3px">2</tspan><tspan dy="4.2">)</tspan></text>
<text x="596" y="235.8" style="font-size:11.39px" text-anchor="start" textLength="45.5" lengthAdjust="spacingAndGlyphs">+1.96 SD</text>
<text x="599.0" y="275.5" style="font-size:11.39px" text-anchor="start" textLength="77.4" lengthAdjust="spacingAndGlyphs">Mean = 0.5 cm<tspan dy="-4.2" style="font-size:8.6px">2</tspan></text>
<text x="596" y="313.6" style="font-size:11.39px" text-anchor="start" textLength="42.8" lengthAdjust="spacingAndGlyphs">-1.96 SD</text>
</g>
<g id="panelD">
<circle class="oc" cx="224.1" cy="495.9" r="2.7"/>
<circle class="oc" cx="188.5" cy="509.4" r="2.7"/>
<circle class="oc" cx="195.9" cy="521.9" r="2.7"/>
<circle class="oc" cx="191.4" cy="520" r="2.7"/>
<circle class="oc" cx="188.8" cy="525.8" r="2.7"/>
<circle class="oc" cx="185" cy="521.3" r="2.7"/>
<circle class="oc" cx="186.2" cy="524.5" r="2.7"/>
<circle class="oc" cx="181.8" cy="523.2" r="2.7"/>
<circle class="oc" cx="177.6" cy="530.3" r="2.7"/>
<circle class="oc" cx="170.5" cy="527.7" r="2.7"/>
<circle class="oc" cx="172.8" cy="530.9" r="2.7"/>
<circle class="oc" cx="169.5" cy="537.3" r="2.7"/>
<circle class="oc" cx="165.7" cy="538.3" r="2.7"/>
<circle class="oc" cx="163.8" cy="544.7" r="2.7"/>
<circle class="oc" cx="157.7" cy="536.1" r="2.7"/>
<circle class="oc" cx="157.3" cy="540.9" r="2.7"/>
<circle class="oc" cx="142.3" cy="535.4" r="2.7"/>
<circle class="oc" cx="147.1" cy="547" r="2.7"/>
<circle class="oc" cx="143.2" cy="553.4" r="2.7"/>
<circle class="oc" cx="135.8" cy="551.2" r="2.7"/>
<circle class="oc" cx="134.2" cy="553.4" r="2.7"/>
<circle class="oc" cx="135.8" cy="557.6" r="2.7"/>
<circle class="oc" cx="137.4" cy="561.8" r="2.7"/>
<circle class="oc" cx="130.4" cy="553.7" r="2.7"/>
<circle class="oc" cx="127.2" cy="556" r="2.7"/>
<circle class="oc" cx="124" cy="552.8" r="2.7"/>
<circle class="oc" cx="121.4" cy="556" r="2.7"/>
<circle class="oc" cx="119.8" cy="559.2" r="2.7"/>
<circle class="oc" cx="124" cy="564" r="2.7"/>
<circle class="oc" cx="119.8" cy="562.4" r="2.7"/>
<circle class="oc" cx="115.6" cy="563.7" r="2.7"/>
<path d="M117,563.4Q150,543.2 224.6,494.5M118,568Q152,547.4 225.6,499.9" stroke="#222" stroke-width="0.75" stroke-dasharray="1 0.9" fill="none"/>
<line x1="117.1" y1="566.1" x2="225.2" y2="496.7" stroke="#000" stroke-width="2.0"/>
<line x1="84.9" y1="588.1" x2="275.5" y2="460.90000000000003" stroke="#22ee22" stroke-width="1.5" stroke-dasharray="4.2 1.6"/>
<path class="ax" d="M84.9,461.6V588.1M84.9,588.1H274.5"/>
<path class="ax" d="M84.9,588.1v4.5M148.1,588.1v4.5M211.3,588.1v4.5M274.5,588.1v4.5M84.9,588.1h-4.5M84.9,545.9h-4.5M84.9,503.8h-4.5M84.9,461.6h-4.5"/>
<text x="84.9" y="608.3" style="font-size:13.4px" text-anchor="middle" textLength="7.06" lengthAdjust="spacingAndGlyphs">0</text>
<text x="148.1" y="608.3" style="font-size:13.4px" text-anchor="middle" textLength="21.18" lengthAdjust="spacingAndGlyphs">500</text>
<text x="211.3" y="608.3" style="font-size:13.4px" text-anchor="middle" textLength="28.24" lengthAdjust="spacingAndGlyphs">1000</text>
<text x="274.5" y="608.3" style="font-size:13.4px" text-anchor="middle" textLength="28.24" lengthAdjust="spacingAndGlyphs">1500</text>
<text x="77.3" y="592.9" style="font-size:13.4px" text-anchor="end" textLength="7.06" lengthAdjust="spacingAndGlyphs">0</text>
<text x="77.3" y="550.7" style="font-size:13.4px" text-anchor="end" textLength="21.18" lengthAdjust="spacingAndGlyphs">500</text>
<text x="77.3" y="508.6" style="font-size:13.4px" text-anchor="end" textLength="28.24" lengthAdjust="spacingAndGlyphs">1000</text>
<text x="77.3" y="466.4" style="font-size:13.4px" text-anchor="end" textLength="28.24" lengthAdjust="spacingAndGlyphs">1500</text>
<text transform="translate(42.5,524.4) rotate(-90)" text-anchor="middle" textLength="180" lengthAdjust="spacingAndGlyphs" style="font-size:13.63px">Estimated muscle volume (cm<tspan dy="-4.5" style="font-size:10px">3</tspan><tspan dy="4.5">)</tspan></text>
<text x="90.2" y="626.5" style="font-size:13.38px" text-anchor="start" textLength="180.2" lengthAdjust="spacingAndGlyphs">Measured muscle volume (cm<tspan dy="-4.5" style="font-size:10px">3</tspan><tspan dy="4.5">)</tspan></text>
<text x="216.8" y="583.3" style="font-size:14.32px" text-anchor="start" textLength="55.7" lengthAdjust="spacingAndGlyphs"><tspan font-style="italic">R</tspan><tspan dy="-5" style="font-size:10.6px">2</tspan><tspan dy="5">=0.914</tspan></text>
</g>
<g id="panelE">
<path d="M400.5,475.7H602M400.5,560.9H602" stroke="#ea3a2e" stroke-width="1.2" fill="none"/>
<line x1="400.5" y1="518.5" x2="602" y2="518.5" stroke="#111" stroke-width="1.25" stroke-dasharray="1.5 1.15"/>
<circle cx="476.5" cy="480.3" r="2.7" fill="#2e6fba"/>
<circle cx="449.1" cy="484.1" r="2.7" fill="#2e6fba"/>
<circle cx="511.8" cy="487" r="2.7" fill="#2e6fba"/>
<circle cx="504.5" cy="490.8" r="2.7" fill="#2e6fba"/>
<circle cx="485.6" cy="492.9" r="2.7" fill="#2e6fba"/>
<circle cx="483.5" cy="497.8" r="2.7" fill="#2e6fba"/>
<circle cx="495" cy="500.3" r="2.7" fill="#2e6fba"/>
<circle cx="504.1" cy="501.3" r="2.7" fill="#2e6fba"/>
<circle cx="510.4" cy="504.5" r="2.7" fill="#2e6fba"/>
<circle cx="494.3" cy="506.2" r="2.7" fill="#2e6fba"/>
<circle cx="458.6" cy="501" r="2.7" fill="#2e6fba"/>
<circle cx="451.9" cy="502.7" r="2.7" fill="#2e6fba"/>
<circle cx="440" cy="507.3" r="2.7" fill="#2e6fba"/>
<circle cx="465.9" cy="515.3" r="2.7" fill="#2e6fba"/>
<circle cx="475.7" cy="513.6" r="2.7" fill="#2e6fba"/>
<circle cx="481.7" cy="515" r="2.7" fill="#2e6fba"/>
<circle cx="491.9" cy="512.5" r="2.7" fill="#2e6fba"/>
<circle cx="492.2" cy="515.7" r="2.7" fill="#2e6fba"/>
<circle cx="501.7" cy="515" r="2.7" fill="#2e6fba"/>
<circle cx="506.2" cy="518.5" r="2.7" fill="#2e6fba"/>
<circle cx="547.6" cy="516" r="2.7" fill="#2e6fba"/>
<circle cx="438.3" cy="524.8" r="2.7" fill="#2e6fba"/>
<circle cx="443.9" cy="527.9" r="2.7" fill="#2e6fba"/>
<circle cx="435.8" cy="532.5" r="2.7" fill="#2e6fba"/>
<circle cx="448.4" cy="534.6" r="2.7" fill="#2e6fba"/>
<circle cx="451.9" cy="533.6" r="2.7" fill="#2e6fba"/>
<circle cx="454.7" cy="529.3" r="2.7" fill="#2e6fba"/>
<circle cx="456.8" cy="529.3" r="2.7" fill="#2e6fba"/>
<circle cx="480.3" cy="530.8" r="2.7" fill="#2e6fba"/>
<circle cx="494" cy="531.5" r="2.7" fill="#2e6fba"/>
<circle cx="442.1" cy="542" r="2.7" fill="#2e6fba"/>
<circle cx="446" cy="546.2" r="2.7" fill="#2e6fba"/>
<circle cx="448.8" cy="545.5" r="2.7" fill="#2e6fba"/>
<circle cx="449.5" cy="554.9" r="2.7" fill="#2e6fba"/>
<circle cx="518.1" cy="556.3" r="2.7" fill="#2e6fba"/>
<circle cx="472.2" cy="576.3" r="2.7" fill="#2e6fba"/>
<path class="ax" d="M400.5,451.9V585.6M400.5,585.6H602"/>
<path class="ax" d="M400.5,585.6v4.9M467.7,585.6v4.9M534.8,585.6v4.9M602.0,585.6v4.9M400.5,585.6h-4.9M400.5,552.2h-4.9M400.5,518.8h-4.9M400.5,485.3h-4.9M400.5,451.9h-4.9"/>
<text x="400.5" y="605" style="font-size:13.0px" text-anchor="middle" textLength="7.17" lengthAdjust="spacingAndGlyphs">0</text>
<text x="467.7" y="605" style="font-size:13.0px" text-anchor="middle" textLength="21.52" lengthAdjust="spacingAndGlyphs">500</text>
<text x="534.8" y="605" style="font-size:13.0px" text-anchor="middle" textLength="28.69" lengthAdjust="spacingAndGlyphs">1000</text>
<text x="602.0" y="605" style="font-size:13.0px" text-anchor="middle" textLength="28.69" lengthAdjust="spacingAndGlyphs">1500</text>
<text x="392.3" y="590.3" style="font-size:13.0px" text-anchor="end" textLength="25.81" lengthAdjust="spacingAndGlyphs">-200</text>
<text x="392.3" y="556.8" style="font-size:13.0px" text-anchor="end" textLength="25.81" lengthAdjust="spacingAndGlyphs">-100</text>
<text x="392.3" y="523.4" style="font-size:13.0px" text-anchor="end" textLength="7.17" lengthAdjust="spacingAndGlyphs">0</text>
<text x="392.3" y="490.0" style="font-size:13.0px" text-anchor="end" textLength="21.52" lengthAdjust="spacingAndGlyphs">100</text>
<text x="392.3" y="456.6" style="font-size:13.0px" text-anchor="end" textLength="21.52" lengthAdjust="spacingAndGlyphs">200</text>
<text transform="translate(342.8,517.4) rotate(-90)" text-anchor="middle" textLength="142.5" lengthAdjust="spacingAndGlyphs" style="font-size:14.06px">Measured vs. estimated</text>
<text transform="translate(358.2,517) rotate(-90)" text-anchor="middle" textLength="127.3" lengthAdjust="spacingAndGlyphs" style="font-size:14.06px">muscle volume (cm<tspan dy="-4.5" style="font-size:10.2px">3</tspan><tspan dy="4.5">)</tspan></text>
<text x="426.6" y="631.5" style="font-size:13.79px" text-anchor="start" textLength="165" lengthAdjust="spacingAndGlyphs">Mean muscle volume (cm<tspan dy="-4.5" style="font-size:10.2px">3</tspan><tspan dy="4.5">)</tspan></text>
<text x="608.6" y="479.8" style="font-size:13.06px" text-anchor="start" textLength="53.2" lengthAdjust="spacingAndGlyphs">+1.96 SD</text>
<text x="608.6" y="522.0" style="font-size:13.06px" text-anchor="start" textLength="75.6" lengthAdjust="spacingAndGlyphs">Mean = 1cm<tspan dy="-4.6" style="font-size:9.6px">3</tspan></text>
<text x="608.8" y="564.2" style="font-size:13.06px" text-anchor="start" textLength="49.6" lengthAdjust="spacingAndGlyphs">-1.96 SD</text>
</g>
</g>
</g></svg></body></html>
